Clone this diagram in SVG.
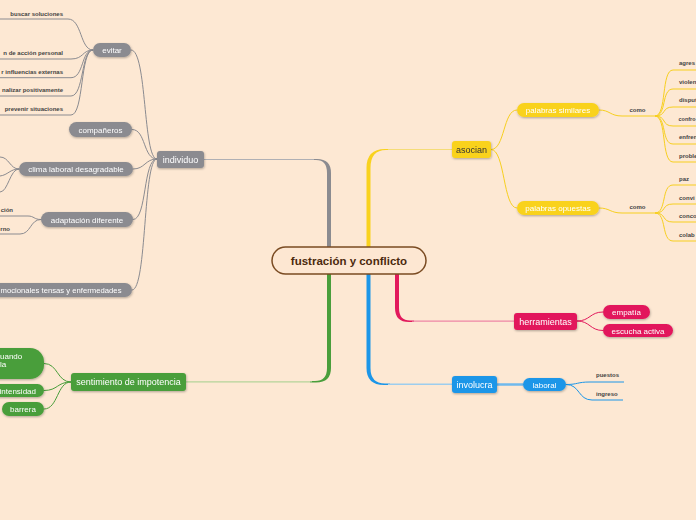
<svg xmlns="http://www.w3.org/2000/svg" width="696" height="520" viewBox="0 0 696 520">
<defs>
<filter id="sh" x="-20%" y="-30%" width="140%" height="180%">
<feDropShadow dx="0.5" dy="1" stdDeviation="0.8" flood-color="#000" flood-opacity="0.3"/>
</filter>
<style>
.t{font-family:"Liberation Sans",Arial,sans-serif}
.nt{font-family:"Liberation Sans",Arial,sans-serif;fill:#fff;font-size:8px;text-anchor:middle}
.big{font-size:9px}
.lbl{font-family:"Liberation Sans",Arial,sans-serif;font-size:6px;font-weight:bold;fill:#444}
.g{fill:#8b8b90}
.y{fill:#f9d21e}
.p{fill:#e2195c}
.b{fill:#1c96e8}
.gr{fill:#4a9e3b}
.cg{fill:none;stroke:#8b8b90;stroke-width:1}
.cy{fill:none;stroke:#f7cf1f;stroke-width:1}
.cp{fill:none;stroke:#e2195c;stroke-width:1}
.cb{fill:none;stroke:#1c96e8;stroke-width:1}
.cgr{fill:none;stroke:#4a9e3b;stroke-width:1}
</style>
</defs>
<rect width="696" height="520" fill="#fde8d3"/>

<g id="connectors">
<path d="M331,247 L331,173 Q331,159 317,159 L312,159 L312,160 L316,160 Q327,160 327,173 L327,247 Z" fill="#8b8b90"/>
<line x1="204" y1="159.5" x2="314" y2="159.5" stroke="#b0b0b4" stroke-width="1"/>
<path d="M366.5,247 L366.5,168 Q366.5,149 385,149 L390,149 L390,150 L386,150 Q370.5,150 370.5,168 L370.5,247 Z" fill="#f9d21e"/>
<line x1="388" y1="149.5" x2="452" y2="149.5" stroke="#f5dc78" stroke-width="1"/>
<path d="M327,274 L327,368 Q327,381 315,381 L310,381 L310,382.5 L316,382.5 Q331,382.5 331,368 L331,274 Z" fill="#4a9e3b"/>
<line x1="186" y1="381.8" x2="312" y2="381.8" stroke="#b4d49a" stroke-width="1.2"/>
<path d="M366.5,274 L366.5,368 Q366.5,385 384,385 L390,385 L390,383.5 L385,383.5 Q370.5,383.5 370.5,368 L370.5,274 Z" fill="#1c96e8"/>
<line x1="388" y1="384.3" x2="452" y2="384.3" stroke="#9dcdee" stroke-width="1.5"/>
<path d="M395,274 L395,308 Q395,322 409,322 L414,322 L414,320.5 L410,320.5 Q399,320.5 399,308 L399,274 Z" fill="#e2195c"/>
<line x1="412" y1="321.2" x2="514" y2="321.2" stroke="#ee86a6" stroke-width="1.2"/>

<path class="cg" d="M157,159 C143,159 147,50 131,50"/>
<path class="cg" d="M157,159 C143,159 146,129.5 132,129.5"/>
<path class="cg" d="M157,159 C145,159 145,169 133,169"/>
<path class="cg" d="M157,159 C143,159 147,219.5 133,219.5"/>
<path class="cg" d="M157,159 C143,159 147,290 132,290"/>
<path class="cg" d="M93,50 C80,50 82,19 68,19 L0,19"/>
<path class="cg" d="M93,50 C82,50 84,59 71,59 L0,59"/>
<path class="cg" d="M93,50 C81,50 84,77.7 71,77.7 L0,77.7"/>
<path class="cg" d="M93,50 C81,50 84,96 71,96 L0,96"/>
<path class="cg" d="M93,50 C80,50 84,115 71,115 L0,115"/>
<path class="cg" d="M19,169 C10,169 9,157 0,157"/>
<path class="cg" d="M19,169 C10,169 8,175 0,176"/>
<path class="cg" d="M19,169 C10,169 8,192 0,192"/>
<path class="cg" d="M41,219.5 C34,219.5 34,216 28,216 L0,216"/>
<path class="cg" d="M41,219.5 C30,219.5 31,234 20,234 L0,234"/>

<path class="cy" d="M491,149.5 C505,149.5 503,110 517,110"/>
<path class="cy" d="M491,149.5 C505,149.5 503,208 517,208"/>
<path class="cy" d="M599,110 C610,110 610,116 622,116 L655,116"/>
<path class="cy" d="M655,116 C667,116 661,70 673,70 L696,70"/>
<path class="cy" d="M655,116 C667,116 661,89 673,89 L696,89"/>
<path class="cy" d="M655,116 C667,116 661,107 673,107 L696,107"/>
<path class="cy" d="M655,116 C667,116 661,126 673,126 L696,126"/>
<path class="cy" d="M655,116 C667,116 661,144 673,144 L696,144"/>
<path class="cy" d="M655,116 C667,116 661,162 673,162 L696,162"/>
<path class="cy" d="M599,208 C610,208 610,213 622,213 L655,213"/>
<path class="cy" d="M655,213 C667,213 661,185 673,185 L696,185"/>
<path class="cy" d="M655,213 C667,213 661,204 673,204 L696,204"/>
<path class="cy" d="M655,213 C667,213 661,222 673,222 L696,222"/>
<path class="cy" d="M655,213 C667,213 661,241 673,241 L696,241"/>

<path class="cp" d="M577,321 C590,321 590,312 603,312"/>
<path class="cp" d="M577,321 C590,321 590,330.5 603,330.5"/>

<line x1="497" y1="384.5" x2="523" y2="384.5" stroke="#6fb9ec" stroke-width="2.5"/>
<path class="cb" d="M566,384.5 C578,384.5 577,382 590,382 L624,382"/>
<path class="cb" d="M566,384.5 C580,384.5 578,400 592,400 L623,400"/>

<path class="cgr" d="M71,382 C57,382 58,363.5 44,363.5"/>
<path class="cgr" d="M71,382 C57,382 58,390.5 44,390.5"/>
<path class="cgr" d="M71,382 C57,382 58,409 44,409"/>
</g>

<g id="center">
<rect x="272" y="247" width="154" height="27" rx="13.5" fill="#fde7d2" stroke="#7a4b22" stroke-width="1.5"/>
<text class="t" x="349" y="265" text-anchor="middle" font-size="11.5" font-weight="bold" fill="#4b2a0d">fustración y conflicto</text>
</g>

<g id="individuo" filter="url(#sh)">
<rect class="g" x="157" y="151" width="47" height="17" rx="3"/>
<text class="nt big" x="180.5" y="162.5">individuo</text>
</g>
<g id="evitar" filter="url(#sh)">
<rect class="g" x="93" y="43" width="38" height="14" rx="7"/>
<text class="nt" x="112" y="53">evitar</text>
</g>
<g id="buscar"><text class="lbl" x="63" y="15.5" text-anchor="end">buscar soluciones</text></g>
<g id="plan"><text class="lbl" x="63" y="54.5" text-anchor="end">n de acción personal</text></g>
<g id="influencias"><text class="lbl" x="63" y="73.5" text-anchor="end">r influencias externas</text></g>
<g id="canalizar"><text class="lbl" x="63" y="91.5" text-anchor="end">nalizar positivamente</text></g>
<g id="prevenir"><text class="lbl" x="63" y="110.5" text-anchor="end">prevenir situaciones</text></g>
<g id="companeros" filter="url(#sh)">
<rect class="g" x="69" y="122" width="63" height="15" rx="7.5"/>
<text class="nt" x="100.5" y="132.5">compañeros</text>
</g>
<g id="clima" filter="url(#sh)">
<rect class="g" x="19" y="162" width="114" height="14" rx="7"/>
<text class="nt" x="76" y="172">clima laboral desagradable</text>
</g>
<g id="adaptacion" filter="url(#sh)">
<rect class="g" x="41" y="212" width="92" height="15" rx="7.5"/>
<text class="nt" x="87" y="222.5">adaptación diferente</text>
</g>
<g id="cion"><text class="lbl" x="13" y="212" text-anchor="end">ción</text></g>
<g id="rno"><text class="lbl" x="10" y="231" text-anchor="end">rno</text></g>
<g id="emocionales" filter="url(#sh)">
<rect class="g" x="-20" y="283" width="152" height="14" rx="7"/>
<text class="t" x="0.5" y="293" font-size="8" fill="#fff" textLength="121" lengthAdjust="spacingAndGlyphs">mocionales tensas y enfermedades</text>
</g>

<g id="asocian" filter="url(#sh)">
<rect class="y" x="452" y="141" width="39" height="17" rx="3"/>
<text class="t" x="471.5" y="152.5" text-anchor="middle" font-size="9" fill="#333">asocian</text>
</g>
<g id="similares" filter="url(#sh)">
<rect class="y" x="517" y="103" width="82" height="14" rx="7"/>
<text class="nt" x="558" y="113">palabras similares</text>
</g>
<g id="opuestas" filter="url(#sh)">
<rect class="y" x="517" y="201" width="82" height="14" rx="7"/>
<text class="nt" x="558" y="211">palabras opuestas</text>
</g>
<g id="como1"><text class="lbl" x="637.5" y="112" text-anchor="middle">como</text></g>
<g id="como2"><text class="lbl" x="637.5" y="209" text-anchor="middle">como</text></g>
<g id="agres"><text class="lbl" x="679" y="65">agres</text></g>
<g id="violen"><text class="lbl" x="679" y="84">violen</text></g>
<g id="disput"><text class="lbl" x="679" y="102">disput</text></g>
<g id="confro"><text class="lbl" x="678.5" y="121" textLength="17" lengthAdjust="spacingAndGlyphs">confro</text></g>
<g id="enfren"><text class="lbl" x="679" y="139">enfren</text></g>
<g id="proble"><text class="lbl" x="679" y="158">proble</text></g>
<g id="paz"><text class="lbl" x="679" y="181">paz</text></g>
<g id="convi"><text class="lbl" x="679" y="200">convi</text></g>
<g id="conco"><text class="lbl" x="679" y="218">conco</text></g>
<g id="colab"><text class="lbl" x="679" y="237">colab</text></g>

<g id="herramientas" filter="url(#sh)">
<rect class="p" x="514" y="313" width="63" height="17" rx="3"/>
<text class="nt big" x="545.5" y="324.5">herramientas</text>
</g>
<g id="empatia" filter="url(#sh)">
<rect class="p" x="603" y="305" width="47" height="14" rx="7"/>
<text class="nt" x="626.5" y="315">empatía</text>
</g>
<g id="escucha" filter="url(#sh)">
<rect class="p" x="603" y="324" width="70" height="13" rx="6.5"/>
<text class="nt" x="638" y="333.5">escucha activa</text>
</g>

<g id="involucra" filter="url(#sh)">
<rect class="b" x="452" y="376" width="45" height="17" rx="3"/>
<text class="nt big" x="474.5" y="387.5">involucra</text>
</g>
<g id="laboral" filter="url(#sh)">
<rect class="b" x="523" y="378" width="43" height="13" rx="6.5"/>
<text class="nt" x="544.5" y="387.5">laboral</text>
</g>
<g id="puestos"><text class="lbl" x="596" y="377">puestos</text></g>
<g id="ingreso"><text class="lbl" x="596" y="396">ingreso</text></g>

<g id="sentimiento" filter="url(#sh)">
<rect class="gr" x="71" y="373" width="115" height="18" rx="3"/>
<text class="nt big" x="128.5" y="385">sentimiento de impotencia</text>
</g>
<g id="cuando" filter="url(#sh)">
<rect class="gr" x="-20" y="348" width="64" height="31" rx="14"/>
<text class="t" x="0" y="358.5" font-size="8" fill="#fff">uando</text>
<text class="t" x="0" y="367" font-size="8" fill="#fff">la</text>
</g>
<g id="intensidad" filter="url(#sh)">
<rect class="gr" x="-20" y="384" width="64" height="13" rx="6.5"/>
<text class="t" x="36" y="393.5" font-size="8" fill="#fff" text-anchor="end">intensidad</text>
</g>
<g id="barrera" filter="url(#sh)">
<rect class="gr" x="2" y="402" width="42" height="14" rx="7"/>
<text class="nt" x="23" y="412">barrera</text>
</g>
</svg>
